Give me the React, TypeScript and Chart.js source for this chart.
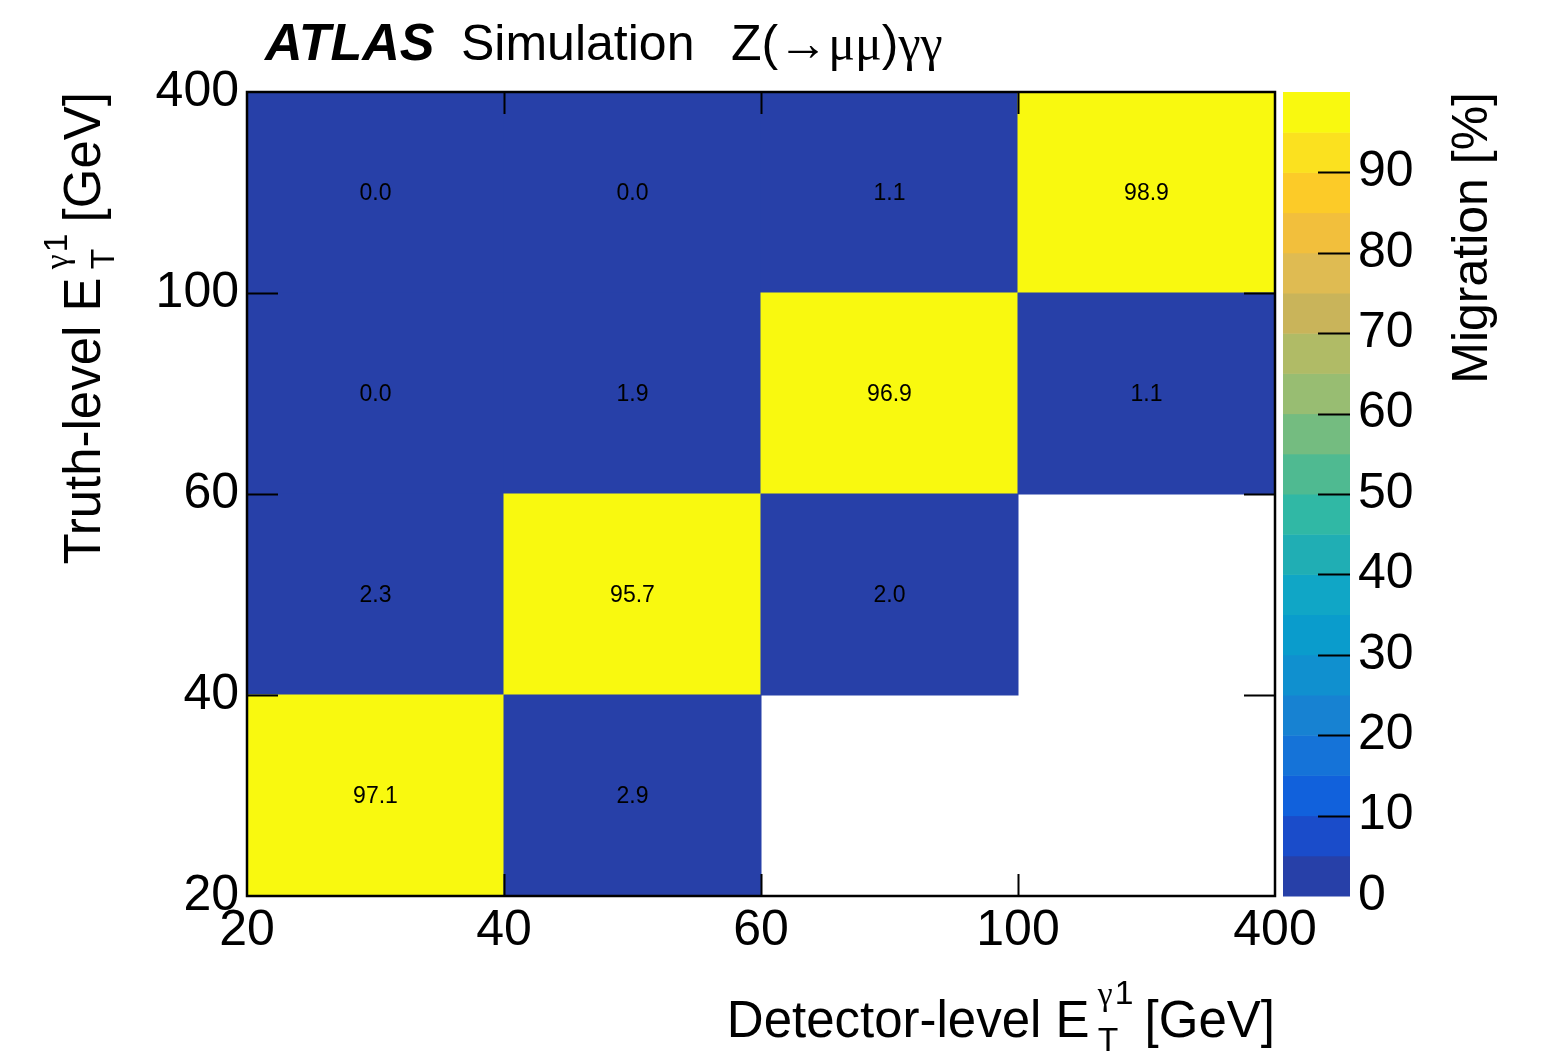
import React, { useEffect, useRef } from "react";
import { Chart, registerables } from "chart.js";

Chart.register(...registerables);

// ---------- data ----------
const binEdgeLabels = ["20", "40", "60", "100", "400"]; // tick labels of both axes (GeV)
const detectorBins = ["20-40", "40-60", "60-100", "100-400"];
const truthBins = ["20-40", "40-60", "60-100", "100-400"];
// migration [%] per truth-level bin (row), one entry per detector-level bin (column); null = empty
const truth20to40: (number | null)[] = [97.1, 2.9, null, null];
const truth40to60: (number | null)[] = [2.3, 95.7, 2.0, null];
const truth60to100: (number | null)[] = [0.0, 1.9, 96.9, 1.1];
const truth100to400: (number | null)[] = [0.0, 0.0, 1.1, 98.9];
const migrationRows = [truth20to40, truth40to60, truth60to100, truth100to400];
const colorbarTickValues = [0, 10, 20, 30, 40, 50, 60, 70, 80, 90];
// palette bands (0-5, 5-10, ..., 95-100 %)
const paletteBands = [
  "#2740a8", "#1a4cca", "#1161dc", "#1573d8", "#1782d2",
  "#1090cf", "#0a9ccc", "#10a6c6", "#20aeb4", "#30b8a5",
  "#4fba91", "#74bc80", "#98bd72", "#b0bb66", "#c9b45a",
  "#dfbb52", "#f2bf3c", "#fccb28", "#fbe11f", "#f9f90f",
];

const SANS = '"Liberation Sans", Arial, Helvetica, sans-serif';
const SERIF = '"Liberation Serif", "Times New Roman", serif';

function colorFor(v: number): string {
  const n = paletteBands.length;
  let k = Math.floor((v / 100) * n);
  if (k < 0) k = 0;
  if (k > n - 1) k = n - 1;
  return paletteBands[k];
}

// draws "prefix E_T^{γ1} suffix"; returns total width. If draw=false only measures.
function etTitle(ctx: CanvasRenderingContext2D, prefix: string, suffix: string, size: number, x: number, y: number, draw: boolean): number {
  const s = size * 0.66;
  ctx.font = `${size}px ${SANS}`;
  const wPre = ctx.measureText(prefix).width;
  ctx.font = `${s}px ${SERIF}`;
  const wG = ctx.measureText("γ").width;
  ctx.font = `${s}px ${SANS}`;
  const w1 = ctx.measureText("1").width;
  const wT = ctx.measureText("T").width;
  const gap1 = size * 0.16;
  const wScript = Math.max(wG + w1, wT);
  const gap2 = size * 0.26;
  ctx.font = `${size}px ${SANS}`;
  const wSuf = ctx.measureText(suffix).width;
  const total = wPre + gap1 + wScript + gap2 + wSuf;
  if (draw) {
    let cx = x;
    ctx.font = `${size}px ${SANS}`;
    ctx.fillText(prefix, cx, y);
    cx += wPre + gap1;
    ctx.font = `${s}px ${SERIF}`;
    ctx.fillText("γ", cx, y - size * 0.62);
    ctx.font = `${s}px ${SANS}`;
    ctx.fillText("1", cx + wG + 2, y - size * 0.64);
    ctx.fillText("T", cx, y + size * 0.27);
    cx += wScript + gap2;
    ctx.font = `${size}px ${SANS}`;
    ctx.fillText(suffix, cx, y);
  }
  return total;
}

const matrixPlugin = {
  id: "matrixDecor",
  afterDatasetsDraw(chart: any) {
    const ctx: CanvasRenderingContext2D = chart.ctx;
    const { left, right, top, bottom } = chart.chartArea;
    const xs = chart.scales.x;
    const ys = chart.scales.y;
    const yc = chart.scales.yc;
    ctx.save();
    ctx.fillStyle = "#000";
    ctx.textBaseline = "middle";
    ctx.textAlign = "center";
    ctx.font = `23px ${SANS}`;
    chart.data.datasets.forEach((ds: any, di: number) => {
      const meta = chart.getDatasetMeta(di);
      meta.data.forEach((el: any, j: number) => {
        const p = el.getProps(["x", "y", "base"], true);
        const v = ds.data[j].v;
        ctx.fillText(v.toFixed(1), p.x, (p.y + p.base) / 2 + 1);
      });
    });

    // frame + inner ticks
    ctx.strokeStyle = "#000";
    ctx.lineWidth = 2;
    ctx.beginPath();
    xs.ticks.forEach((t: any) => {
      if (t.value <= xs.min || t.value >= xs.max) return;
      const px = Math.round(xs.getPixelForValue(t.value)) + 0.5;
      ctx.moveTo(px, bottom);
      ctx.lineTo(px, bottom - 22);
      ctx.moveTo(px, top);
      ctx.lineTo(px, top + 22);
    });
    ys.ticks.forEach((t: any) => {
      if (t.value <= ys.min || t.value >= ys.max) return;
      const py = Math.round(ys.getPixelForValue(t.value)) + 0.5;
      ctx.moveTo(left, py);
      ctx.lineTo(left + 31, py);
      ctx.moveTo(right, py);
      ctx.lineTo(right - 31, py);
    });
    ctx.stroke();
    ctx.lineWidth = 2.5;
    ctx.strokeRect(left, top, right - left, bottom - top);

    // colour bar
    const n = paletteBands.length;
    const cbL = right + 8;
    const cbR = right + 75;
    paletteBands.forEach((c, k) => {
      const y0 = yc.getPixelForValue((k * 100) / n);
      const y1 = yc.getPixelForValue(((k + 1) * 100) / n);
      ctx.fillStyle = c;
      ctx.fillRect(cbL, y1, cbR - cbL, y0 - y1 + 0.5);
    });
    ctx.strokeStyle = "#000";
    ctx.lineWidth = 2;
    ctx.beginPath();
    colorbarTickValues.forEach((v) => {
      if (v <= 0) return;
      const py = Math.round(yc.getPixelForValue(v)) + 0.5;
      ctx.moveTo(cbR, py);
      ctx.lineTo(cbR - 32, py);
    });
    ctx.stroke();

    // header
    ctx.fillStyle = "#000";
    ctx.textAlign = "left";
    ctx.textBaseline = "alphabetic";
    ctx.font = `italic bold 52px ${SANS}`;
    ctx.fillText("ATLAS", 265, 60);
    ctx.font = `50px ${SANS}`;
    ctx.fillText("Simulation", 461, 60);
    let hx = 731;
    ctx.fillText("Z(", hx, 60);
    hx += ctx.measureText("Z(").width;
    ctx.font = `50px ${SERIF}`;
    ctx.fillText("→μμ", hx, 60);
    hx += ctx.measureText("→μμ").width;
    ctx.font = `50px ${SANS}`;
    ctx.fillText(")", hx, 60);
    hx += ctx.measureText(")").width;
    ctx.font = `50px ${SERIF}`;
    ctx.fillText("γγ", hx, 60);

    // x axis title (right aligned to frame)
    const wx = etTitle(ctx, "Detector-level E", "[GeV]", 51, 0, 0, false);
    etTitle(ctx, "Detector-level E", "[GeV]", 51, right - wx, 1037, true);

    // y axis title (rotated, right aligned to top of frame)
    const wy = etTitle(ctx, "Truth-level E", "[GeV]", 51, 0, 0, false);
    ctx.save();
    ctx.translate(100, top);
    ctx.rotate(-Math.PI / 2);
    etTitle(ctx, "Truth-level E", "[GeV]", 51, -wy, 0, true);
    ctx.restore();

    // colour bar title
    ctx.save();
    ctx.translate(1487, top);
    ctx.rotate(-Math.PI / 2);
    ctx.font = `50px ${SANS}`;
    ctx.textAlign = "right";
    ctx.fillText("Migration [%]", 0, 0);
    ctx.restore();

    ctx.restore();
  },
};

export default function App() {
  const canvasRef = useRef<HTMLCanvasElement | null>(null);

  useEffect(() => {
    const canvas = canvasRef.current;
    if (!canvas) return;
    const datasets = migrationRows.map((row, r) => ({
      label: truthBins[r],
      data: row
        .map((v, c) => (v === null ? null : { x: c + 0.5, y: [r, r + 1], v, det: detectorBins[c] }))
        .filter((d) => d !== null),
      backgroundColor: (c: any) => colorFor(c.raw ? c.raw.v : 0),
      borderWidth: 0,
      barPercentage: 1,
      categoryPercentage: 1,
      grouped: false,
      inflateAmount: 0.5,
    }));

    const tickFont = { family: SANS, size: 50 };
    const chart = new Chart(canvas, {
      type: "bar",
      data: { datasets } as any,
      options: {
        animation: false,
        responsive: false,
        devicePixelRatio: 1,
        events: [],
        layout: { padding: { top: 92, left: 0, right: 0, bottom: 0 } },
        plugins: {
          legend: { display: false },
          tooltip: { enabled: false },
          title: { display: false },
        },
        scales: {
          x: {
            type: "linear",
            position: "bottom",
            min: 0,
            max: 4,
            offset: false,
            grid: { display: false },
            border: { display: false },
            ticks: {
              stepSize: 1,
              autoSkip: false,
              maxRotation: 0,
              color: "#000",
              font: tickFont,
              padding: -3,
              callback: (v: any) => binEdgeLabels[Math.round(Number(v))] ?? "",
            },
            afterFit: (s: any) => {
              s.height = 157;
              s.paddingLeft = 0;
              s.paddingRight = 0;
            },
          },
          y: {
            type: "linear",
            position: "left",
            min: 0,
            max: 4,
            grid: { display: false },
            border: { display: false },
            ticks: {
              stepSize: 1,
              autoSkip: false,
              color: "#000",
              font: tickFont,
              padding: 0,
              callback: (v: any) => binEdgeLabels[Math.round(Number(v))] ?? "",
            },
            afterFit: (s: any) => {
              s.width = 247;
              s.paddingTop = 0;
              s.paddingBottom = 0;
            },
          },
          yc: {
            type: "linear",
            position: "right",
            min: 0,
            max: 100,
            grid: { display: false },
            border: { display: false },
            ticks: {
              stepSize: 10,
              autoSkip: false,
              color: "#000",
              font: tickFont,
              padding: 75,
              callback: (v: any) => (Number(v) >= 100 ? "" : String(v)),
            },
            afterFit: (s: any) => {
              s.width = 267;
              s.paddingTop = 0;
              s.paddingBottom = 0;
            },
          },
        },
      } as any,
      plugins: [matrixPlugin],
    });
    return () => chart.destroy();
  }, []);

  return (
    <div style={{ position: "fixed", left: 0, top: 0, width: 1542, height: 1053, background: "#fff" }}>
      <canvas ref={canvasRef} width={1542} height={1053} style={{ display: "block", width: 1542, height: 1053 }} />
    </div>
  );
}
